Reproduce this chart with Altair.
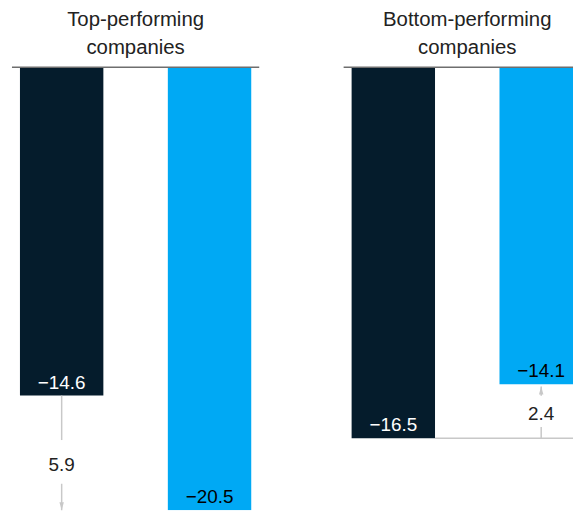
import altair as alt
import pandas as pd

# ---- data -------------------------------------------------------------
series = ["Series 1", "Series 2"]
series_colors = ["#051C2C", "#00A9F4"]
label_colors = ["#FFFFFF", "#000000"]

top_title = ["Top-performing", "companies"]
top_values = [-14.6, -20.5]

bottom_title = ["Bottom-performing", "companies"]
bottom_values = [-16.5, -14.1]

Y_MIN = -19.7  # visible lower end of the value axis (chart is cropped)

FONT = "Liberation Sans"
ARROW_COLOR = "#C8C8C8"
TEXT_COLOR = "#222222"


def fmt(v):
    s = f"{abs(v):.1f}"
    return ("\u2212" + s) if v < 0 else s


def panel(values, title_lines, width, title_dx, connector):
    xs = alt.Scale(domain=series, range=[0, 249], paddingInner=0.436, paddingOuter=0.054)
    ys = alt.Scale(domain=[Y_MIN, 0], nice=False, zero=False, clamp=True)

    def Y(field):
        return alt.Y(field, scale=ys, axis=None)

    bars_df = pd.DataFrame({
        "series": series,
        "value": values,
        "label": [fmt(v) for v in values],
        "tcolor": label_colors,
    })

    x_enc = alt.X("series:N", scale=xs, axis=None)

    bars = alt.Chart(bars_df).mark_bar(clip=True).encode(
        x=x_enc,
        y=Y("value:Q"),
        y2=alt.datum(0),
        color=alt.Color("series:N", scale=alt.Scale(domain=series, range=series_colors), legend=None),
    )

    labels = alt.Chart(bars_df).mark_text(
        baseline="alphabetic", dy=-7, fontSize=19, font=FONT
    ).encode(
        x=x_enc,
        y=Y("value:Q"),
        text="label:N",
        color=alt.Color("tcolor:N", scale=None),
    )

    zero = alt.Chart(pd.DataFrame({"v": [0]})).mark_rule(color="#6E6E6E", strokeWidth=1.5).encode(
        y=Y("v:Q")
    )

    # arrow from first series value to second, in column of the shorter bar
    a, b = values
    col = series[0] if abs(a) < abs(b) else series[1]
    diff = abs(a - b)
    mid = (a + b) / 2
    gap = 0.5 + 0.08 * diff
    sign = 1 if b > a else -1  # direction of arrow in value units
    tip = b - sign * 0.1
    seg_df = pd.DataFrame({
        "series": [col, col],
        "ys": [a, mid + sign * gap],
        "ye": [mid - sign * gap, tip],
    })
    segs = alt.Chart(seg_df).mark_rule(color=ARROW_COLOR, strokeWidth=1.5).encode(
        x=x_enc, y=Y("ys:Q"), y2="ye:Q"
    )
    head_path = "M-0.28,1L0,0L0.28,1Z" if sign > 0 else "M-0.28,-1L0,0L0.28,-1Z"
    head_df = pd.DataFrame({"series": [col], "yt": [tip]})
    head = alt.Chart(head_df).mark_point(
        shape=head_path, filled=True, size=256, color=ARROW_COLOR, opacity=1, strokeWidth=0
    ).encode(x=x_enc, y=Y("yt:Q"))

    diff_df = pd.DataFrame({"series": [col], "ym": [mid], "dlabel": [f"{diff:.1f}"]})
    diff_text = alt.Chart(diff_df).mark_text(
        baseline="middle", dy=3, fontSize=19, font=FONT, color=TEXT_COLOR
    ).encode(x=x_enc, y=Y("ym:Q"), text="dlabel:N")

    layers = [bars, labels, zero, segs, head, diff_text]

    if connector:
        long_series = series[0] if abs(a) > abs(b) else series[1]
        conn_df = pd.DataFrame({"series": [long_series], "yc": [a]})
        conn = alt.Chart(conn_df).mark_rule(color=ARROW_COLOR, strokeWidth=1.5, clip=True).encode(
            x=alt.X("series:N", scale=xs, axis=None, bandPosition=1),
            x2=alt.value("width"),
            y=Y("yc:Q"),
        )
        layers.insert(3, conn)

    return alt.layer(*layers).properties(
        width=width,
        height=446,
        title=alt.TitleParams(
            text=title_lines,
            fontSize=20.5,
            font=FONT,
            fontWeight="normal",
            color=TEXT_COLOR,
            lineHeight=28,
            anchor="middle",
            baseline="top",
            offset=8,
            dx=title_dx,
        ),
    )


p1 = panel(top_values, top_title, 249, 0, False)
p2 = panel(bottom_values, bottom_title, 231, 9, True)

chart = alt.hconcat(p1, p2, spacing=83).properties(
    padding={"left": 3, "top": 0, "right": 0, "bottom": 0}
).configure_view(stroke=None)

chart.save("out.html", embed_options={"renderer": "svg", "actions": False})
